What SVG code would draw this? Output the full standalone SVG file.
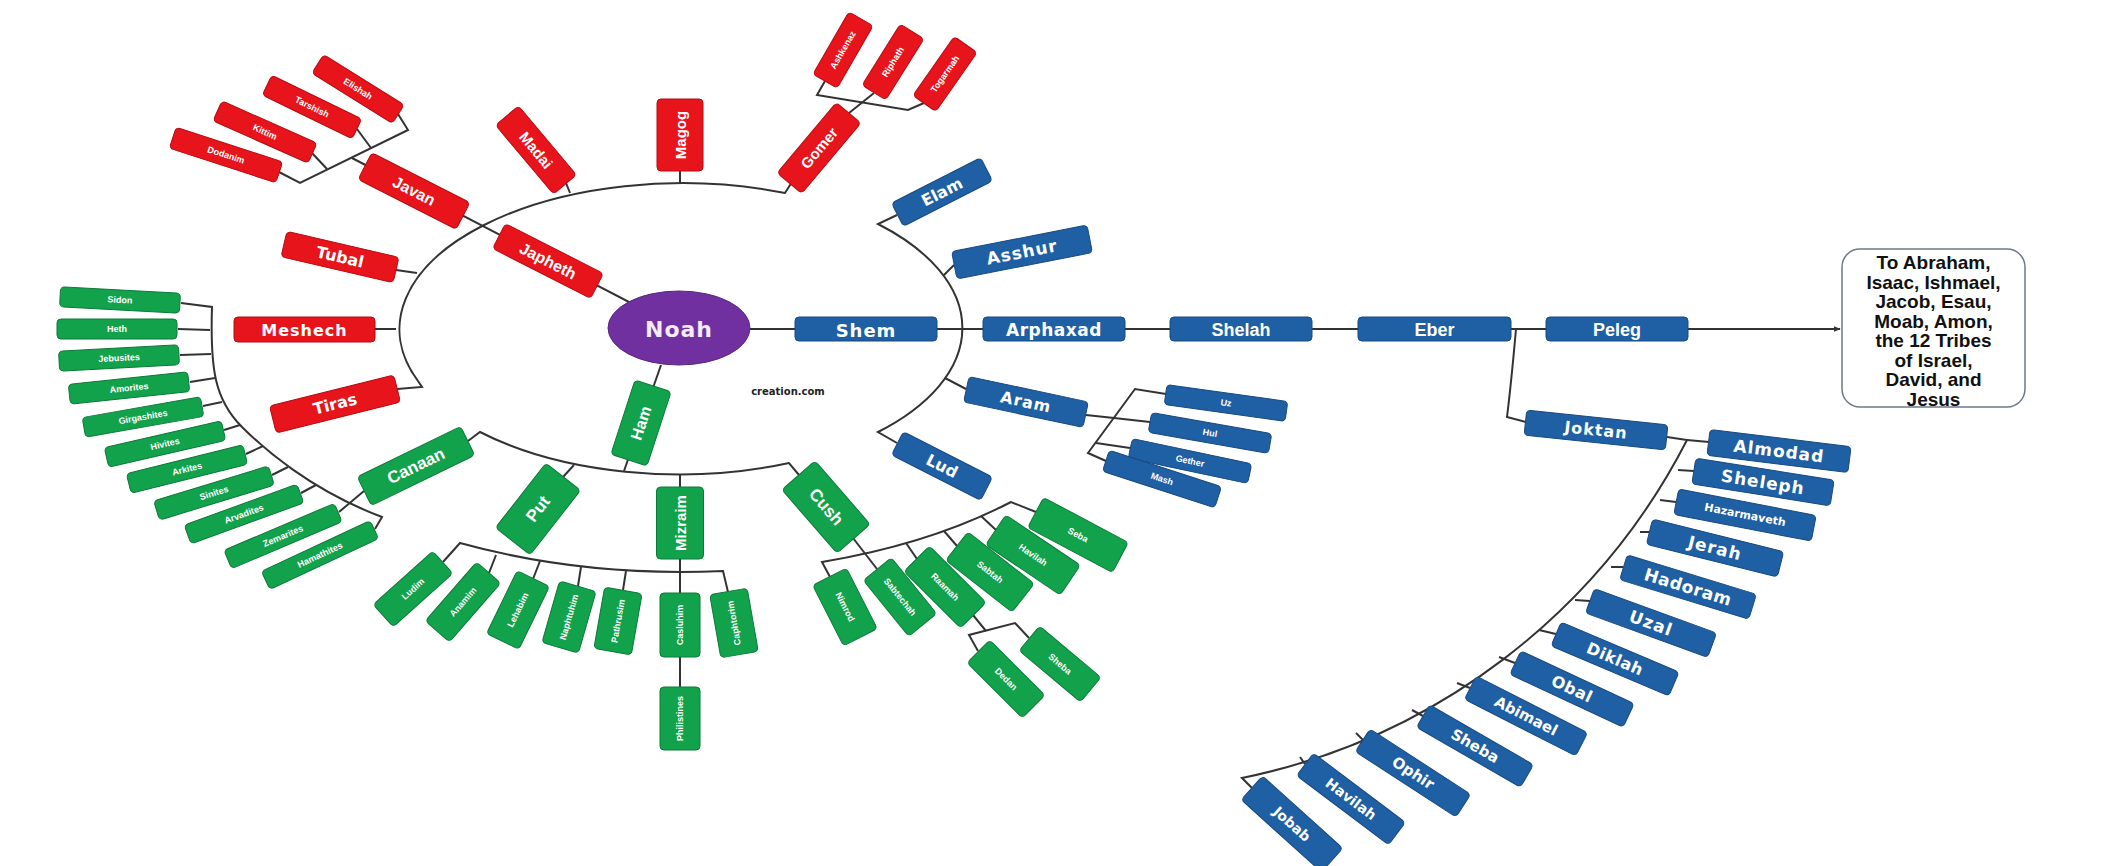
<svg xmlns="http://www.w3.org/2000/svg" width="2101" height="866" viewBox="0 0 2101 866">
<defs>
<style>
.r{fill:#E8141B;stroke:#B80A10;stroke-width:1}
.g{fill:#12A24C;stroke:#0B7A38;stroke-width:1}
.b{fill:#1F5FA3;stroke:#174A80;stroke-width:1}
text{fill:#fff;text-anchor:middle;dominant-baseline:central;font-weight:bold}
.v{font-family:"DejaVu Sans",sans-serif}
.c{font-family:"Liberation Sans",Arial,sans-serif}
.s{font-family:"Liberation Sans",Arial,sans-serif;font-size:9px}
.L{fill:none;stroke:#333;stroke-width:2}
</style>
<marker id="arr" viewBox="0 0 10 10" refX="9" refY="5" markerWidth="7" markerHeight="7" orient="auto" markerUnits="userSpaceOnUse">
<path d="M0,1 L10,5 L0,9 z" fill="#333"/>
</marker>
</defs>
<rect width="2101" height="866" fill="#fff"/>

<g id="connectors" class="L">
<path d="M679,328 L352,158"/>
<path d="M750,329 H1840" marker-end="url(#arr)"/>
<path d="M661,365 L624,471"/>
<path d="M792,182 L785,193 A283,146 0 0 0 418,381 L422,387 L397,389"/>
<path d="M680,171 V183"/>
<path d="M566,183 L570,193"/>
<path d="M396,270 L417,273"/>
<path d="M375,329 H396"/>
<path d="M279,172 L300,183 L408,130 L398,114"/>
<path d="M312,153 L327,169"/>
<path d="M357,129 L371,148"/>
<path d="M825,81 L817,95 L908,110 L924,103"/>
<path d="M849,113 L874,93"/>
<path d="M468,441 L480,432 A283,146 0 0 0 789,463 L799,475"/>
<path d="M563,477 L574,465"/>
<path d="M680,474 V687"/>
<path d="M181,303 L212,307 C210,370 215,400 242,427 C262,447 310,490 382,517 L375,529"/>
<path d="M364,491 L339,512"/>
<path d="M178,329 L210,330"/>
<path d="M180,355 L211,354"/>
<path d="M190,382 L215,378"/>
<path d="M203,406 L222,402"/>
<path d="M224,430 L240,425"/>
<path d="M246,454 L263,446"/>
<path d="M272,475 L288,467"/>
<path d="M301,493 L316,485"/>
<path d="M443,562 L460,543 A473,244 0 0 0 723,571 L728,592"/>
<path d="M489,573 L496,555"/>
<path d="M533,579 L540,561"/>
<path d="M578,586 L581,567"/>
<path d="M623,590 L626,571"/>
<path d="M853,538 L877,569"/>
<path d="M830,577 L822,562 A471,245 0 0 0 1011,502 L1036,512"/>
<path d="M906,543 L917,559"/>
<path d="M944,531 L957,546"/>
<path d="M981,516 L996,530"/>
<path d="M978,651 L969,635 L1015,623 L1029,638"/>
<path d="M973,615 L986,631"/>
<path d="M897,215 L878,224 A283,146 0 0 1 878,432 L897,443"/>
<path d="M944,275 L954,265"/>
<path d="M945,378 L966,389"/>
<path d="M1086,415 L1114,418 L1150,422"/>
<path d="M1166,394 L1135,389 L1088,453 L1106,461"/>
<path d="M1096,443 L1130,448"/>
<path d="M1516,329 Q1511,385 1507,417 L1526,422"/>
<path d="M1667,437 L1687,440 A646,646 0 0 1 1242,778 L1252,788"/>
<path d="M1687,440 L1709,442"/>
<path d="M1678,470 L1694,471"/>
<path d="M1660,500 L1676,502"/>
<path d="M1640,532 L1650,532"/>
<path d="M1611,567 L1623,567"/>
<path d="M1575,600 L1590,601"/>
<path d="M1539,630 L1556,634"/>
<path d="M1499,657 L1515,663"/>
<path d="M1457,683 L1470,688"/>
<path d="M1412,710 L1423,716"/>
<path d="M1356,733 L1363,740"/>
<path d="M1300,757 L1305,764"/>
</g>

<g id="n-noah"><ellipse cx="679" cy="328" rx="71" ry="37" fill="#7030A0" stroke="#5A2580"/><text x="679" y="329" class="v" font-size="22" letter-spacing="1" style="fill:#F3ECFA">Noah</text></g>

<g id="n-japheth" transform="translate(548,261) rotate(27)"><rect x="-55" y="-14" width="110" height="28" rx="4" class="r"/><text class="c" font-size="16">Japheth</text></g>
<g id="n-javan" transform="translate(414,191) rotate(27)"><rect x="-55" y="-15" width="110" height="30" rx="4" class="r"/><text class="c" font-size="16">Javan</text></g>
<g id="n-madai" transform="translate(536,150) rotate(50)"><rect x="-45" y="-15" width="90" height="30" rx="4" class="r"/><text class="c" font-size="15">Madai</text></g>
<g id="n-magog" transform="translate(680,135) rotate(-90)"><rect x="-36" y="-23" width="72" height="46" rx="4" class="r"/><text class="c" font-size="15">Magog</text></g>
<g id="n-gomer" transform="translate(819,148) rotate(-50)"><rect x="-46" y="-16" width="92" height="32" rx="4" class="r"/><text class="c" font-size="15">Gomer</text></g>
<g id="n-tubal" transform="translate(340,257) rotate(13)"><rect x="-57.5" y="-13" width="115" height="26" rx="4" class="r"/><text class="v" font-size="16">Tubal</text></g>
<g id="n-meshech"><rect x="234" y="317" width="141" height="25" rx="4" class="r"/><text x="304.5" y="330" class="v" font-size="16" letter-spacing="1">Meshech</text></g>
<g id="n-tiras" transform="translate(335,404) rotate(-14)"><rect x="-64" y="-14" width="128" height="28" rx="4" class="r"/><text class="v" font-size="16">Tiras</text></g>
<g id="n-ashkenaz" transform="translate(843,50) rotate(-60)"><rect x="-36" y="-14" width="72" height="28" rx="4" class="r"/><text class="s">Ashkenaz</text></g>
<g id="n-riphath" transform="translate(893,62) rotate(-58)"><rect x="-36" y="-14" width="72" height="28" rx="4" class="r"/><text class="s">Riphath</text></g>
<g id="n-togarmah" transform="translate(945,74) rotate(-55)"><rect x="-36" y="-14" width="72" height="28" rx="4" class="r"/><text class="s">Togarmah</text></g>
<g id="n-dodanim" transform="translate(226,155) rotate(18)"><rect x="-56" y="-11" width="112" height="22" rx="4" class="r"/><text class="s" font-size="10">Dodanim</text></g>
<g id="n-kittim" transform="translate(265,132) rotate(24)"><rect x="-52" y="-11" width="104" height="22" rx="4" class="r"/><text class="s" font-size="10">Kittim</text></g>
<g id="n-tarshish" transform="translate(312,107) rotate(26)"><rect x="-50" y="-11" width="100" height="22" rx="4" class="r"/><text class="s" font-size="10">Tarshish</text></g>
<g id="n-elishah" transform="translate(358,89) rotate(32)"><rect x="-47.5" y="-11" width="95" height="22" rx="4" class="r"/><text class="s" font-size="10">Elishah</text></g>

<g id="n-ham" transform="translate(641,423) rotate(-72)"><rect x="-39" y="-19" width="78" height="38" rx="4" class="g"/><text class="c" font-size="16">Ham</text></g>
<g id="n-canaan" transform="translate(416,466) rotate(-26)"><rect x="-57.5" y="-16" width="115" height="32" rx="4" class="g"/><text class="c" font-size="17">Canaan</text></g>
<g id="n-put" transform="translate(538,509) rotate(-52)"><rect x="-41" y="-22" width="82" height="44" rx="4" class="g"/><text class="c" font-size="17">Put</text></g>
<g id="n-mizraim" transform="translate(680,523) rotate(-90)"><rect x="-36" y="-23.5" width="72" height="47" rx="4" class="g"/><text class="c" font-size="15">Mizraim</text></g>
<g id="n-cush" transform="translate(826,507) rotate(49)"><rect x="-42" y="-22" width="84" height="44" rx="4" class="g"/><text class="c" font-size="17">Cush</text></g>

<g id="n-sidon" transform="translate(120,300) rotate(3)"><rect x="-60" y="-10" width="120" height="20" rx="4" class="g"/><text class="s">Sidon</text></g>
<g id="n-heth" transform="translate(117,329)"><rect x="-60" y="-10" width="120" height="20" rx="4" class="g"/><text class="s">Heth</text></g>
<g id="n-jebusites" transform="translate(119,358) rotate(-3)"><rect x="-60" y="-10" width="120" height="20" rx="4" class="g"/><text class="s">Jebusites</text></g>
<g id="n-amorites" transform="translate(129,388) rotate(-6)"><rect x="-60" y="-10" width="120" height="20" rx="4" class="g"/><text class="s">Amorites</text></g>
<g id="n-girgashites" transform="translate(143,417) rotate(-10)"><rect x="-60" y="-10" width="120" height="20" rx="4" class="g"/><text class="s">Girgashites</text></g>
<g id="n-hivites" transform="translate(165,444) rotate(-13)"><rect x="-60" y="-10" width="120" height="20" rx="4" class="g"/><text class="s">Hivites</text></g>
<g id="n-arkites" transform="translate(187,469) rotate(-14)"><rect x="-60" y="-10" width="120" height="20" rx="4" class="g"/><text class="s">Arkites</text></g>
<g id="n-sinites" transform="translate(214,493) rotate(-17)"><rect x="-60" y="-10" width="120" height="20" rx="4" class="g"/><text class="s">Sinites</text></g>
<g id="n-arvadites" transform="translate(244,514) rotate(-20)"><rect x="-60" y="-10" width="120" height="20" rx="4" class="g"/><text class="s">Arvadites</text></g>
<g id="n-zemarites" transform="translate(283,536) rotate(-23)"><rect x="-60" y="-10" width="120" height="20" rx="4" class="g"/><text class="s">Zemarites</text></g>
<g id="n-hamathites" transform="translate(320,555) rotate(-25)"><rect x="-60" y="-10" width="120" height="20" rx="4" class="g"/><text class="s">Hamathites</text></g>

<g id="n-ludim" transform="translate(413,589) rotate(-42)"><rect x="-40" y="-15" width="80" height="30" rx="4" class="g"/><text class="s" font-size="8.5">Ludim</text></g>
<g id="n-anamim" transform="translate(463,602) rotate(-49)"><rect x="-39" y="-16" width="78" height="32" rx="4" class="g"/><text class="s" font-size="8.5">Anamim</text></g>
<g id="n-lehabim" transform="translate(518,610) rotate(-64)"><rect x="-35" y="-18" width="70" height="36" rx="4" class="g"/><text class="s" font-size="8.5">Lehabim</text></g>
<g id="n-naphtuhim" transform="translate(569,617) rotate(-74)"><rect x="-32" y="-19" width="64" height="38" rx="4" class="g"/><text class="s" font-size="8">Naphtuhim</text></g>
<g id="n-pathrusim" transform="translate(618,621) rotate(-80)"><rect x="-31" y="-19" width="62" height="38" rx="4" class="g"/><text class="s" font-size="8">Pathrusim</text></g>
<g id="n-casluhim" transform="translate(680,625) rotate(-90)"><rect x="-32" y="-20" width="64" height="40" rx="4" class="g"/><text class="s" font-size="8">Casluhim</text></g>
<g id="n-caphtorim" transform="translate(734,623) rotate(-100)"><rect x="-32" y="-19" width="64" height="38" rx="4" class="g"/><text class="s" font-size="8">Caphtorim</text></g>
<g id="n-philistines" transform="translate(680,718.5) rotate(-90)"><rect x="-31.5" y="-20" width="63" height="40" rx="4" class="g"/><text class="s" font-size="8">Philistines</text></g>

<g id="n-nimrod" transform="translate(845,607) rotate(63)"><rect x="-34" y="-19" width="68" height="38" rx="4" class="g"/><text class="s">Nimrod</text></g>
<g id="n-sabtechah" transform="translate(900,597) rotate(51)"><rect x="-36" y="-18" width="72" height="36" rx="4" class="g"/><text class="s" font-size="8.5">Sabtechah</text></g>
<g id="n-raamah" transform="translate(945,587) rotate(45)"><rect x="-40" y="-18" width="80" height="36" rx="4" class="g"/><text class="s">Raamah</text></g>
<g id="n-sabtah" transform="translate(990,572) rotate(38)"><rect x="-42" y="-18" width="84" height="36" rx="4" class="g"/><text class="s">Sabtah</text></g>
<g id="n-havilah-c" transform="translate(1033,555) rotate(34)"><rect x="-45" y="-18" width="90" height="36" rx="4" class="g"/><text class="s">Havilah</text></g>
<g id="n-seba" transform="translate(1078,535) rotate(28)"><rect x="-48" y="-17" width="96" height="34" rx="4" class="g"/><text class="s">Seba</text></g>
<g id="n-dedan" transform="translate(1006,679) rotate(45)"><rect x="-39" y="-16" width="78" height="32" rx="4" class="g"/><text class="s">Dedan</text></g>
<g id="n-sheba-c" transform="translate(1060,664) rotate(40)"><rect x="-40" y="-16" width="80" height="32" rx="4" class="g"/><text class="s">Sheba</text></g>

<g id="n-shem"><rect x="795" y="317" width="142" height="24" rx="4" class="b"/><text x="866" y="330" class="v" font-size="18" letter-spacing="1">Shem</text></g>
<g id="n-arphaxad"><rect x="983" y="317" width="142" height="24" rx="4" class="b"/><text x="1054" y="330" class="v" font-size="17" letter-spacing="0.5">Arphaxad</text></g>
<g id="n-shelah"><rect x="1170" y="317" width="142" height="24" rx="4" class="b"/><text x="1241" y="330" class="c" font-size="18">Shelah</text></g>
<g id="n-eber"><rect x="1358" y="317" width="153" height="24" rx="4" class="b"/><text x="1434.5" y="330" class="c" font-size="18">Eber</text></g>
<g id="n-peleg"><rect x="1546" y="317" width="142" height="24" rx="4" class="b"/><text x="1617" y="330" class="c" font-size="18">Peleg</text></g>
<g id="n-elam" transform="translate(942,192) rotate(-27)"><rect x="-50" y="-13" width="100" height="26" rx="4" class="b"/><text class="v" font-size="16">Elam</text></g>
<g id="n-asshur" transform="translate(1022,252) rotate(-11)"><rect x="-69" y="-14" width="138" height="28" rx="4" class="b"/><text class="v" font-size="17" letter-spacing="1">Asshur</text></g>
<g id="n-aram" transform="translate(1026,402) rotate(12)"><rect x="-61" y="-13" width="122" height="26" rx="4" class="b"/><text class="v" font-size="16" letter-spacing="1">Aram</text></g>
<g id="n-lud" transform="translate(942,466) rotate(27)"><rect x="-50" y="-13" width="100" height="26" rx="4" class="b"/><text class="v" font-size="16">Lud</text></g>
<g id="n-uz" transform="translate(1226,403) rotate(8)"><rect x="-61" y="-10" width="122" height="20" rx="4" class="b"/><text class="s">Uz</text></g>
<g id="n-hul" transform="translate(1210,433) rotate(10)"><rect x="-61" y="-10" width="122" height="20" rx="4" class="b"/><text class="s">Hul</text></g>
<g id="n-gether" transform="translate(1190,461) rotate(12)"><rect x="-61" y="-10" width="122" height="20" rx="4" class="b"/><text class="s">Gether</text></g>
<g id="n-mash" transform="translate(1162,479) rotate(18)"><rect x="-59" y="-11" width="118" height="22" rx="4" class="b"/><text class="s">Mash</text></g>
<g id="n-joktan" transform="translate(1596,430) rotate(6)"><rect x="-71" y="-12.5" width="142" height="25" rx="4" class="b"/><text class="v" font-size="16" letter-spacing="1">Joktan</text></g>

<g id="n-almodad" transform="translate(1779,451) rotate(7)"><rect x="-71" y="-13" width="142" height="26" rx="4" class="b"/><text class="v" font-size="17" letter-spacing="1">Almodad</text></g>
<g id="n-sheleph" transform="translate(1763,482) rotate(9)"><rect x="-70" y="-13" width="140" height="26" rx="4" class="b"/><text class="v" font-size="17" letter-spacing="1">Sheleph</text></g>
<g id="n-hazarmaveth" transform="translate(1745,515) rotate(11)"><rect x="-70" y="-13" width="140" height="26" rx="4" class="b"/><text class="v" font-size="11">Hazarmaveth</text></g>
<g id="n-jerah" transform="translate(1715,548) rotate(14)"><rect x="-67.5" y="-13" width="135" height="26" rx="4" class="b"/><text class="v" font-size="17" letter-spacing="1">Jerah</text></g>
<g id="n-hadoram" transform="translate(1688,587) rotate(17)"><rect x="-67.5" y="-13" width="135" height="26" rx="4" class="b"/><text class="v" font-size="17" letter-spacing="0.5">Hadoram</text></g>
<g id="n-uzal" transform="translate(1651,623) rotate(20)"><rect x="-65" y="-13" width="130" height="26" rx="4" class="b"/><text class="v" font-size="17" letter-spacing="1">Uzal</text></g>
<g id="n-diklah" transform="translate(1615,659) rotate(23)"><rect x="-64" y="-13" width="128" height="26" rx="4" class="b"/><text class="v" font-size="16" letter-spacing="0.5">Diklah</text></g>
<g id="n-obal" transform="translate(1572,689) rotate(25)"><rect x="-62.5" y="-13" width="125" height="26" rx="4" class="b"/><text class="v" font-size="16" letter-spacing="0.5">Obal</text></g>
<g id="n-abimael" transform="translate(1526,716) rotate(27)"><rect x="-62.5" y="-13" width="125" height="26" rx="4" class="b"/><text class="v" font-size="15">Abimael</text></g>
<g id="n-sheba" transform="translate(1475,746) rotate(30)"><rect x="-60" y="-13" width="120" height="26" rx="4" class="b"/><text class="v" font-size="15">Sheba</text></g>
<g id="n-ophir" transform="translate(1413,773) rotate(33)"><rect x="-60" y="-13.5" width="120" height="27" rx="4" class="b"/><text class="v" font-size="15">Ophir</text></g>
<g id="n-havilah" transform="translate(1351,799) rotate(37)"><rect x="-57.5" y="-14" width="115" height="28" rx="4" class="b"/><text class="v" font-size="14">Havilah</text></g>
<g id="n-jobab" transform="translate(1292,824) rotate(42)"><rect x="-54" y="-16" width="108" height="32" rx="4" class="b"/><text class="v" font-size="14">Jobab</text></g>

<g id="n-abraham"><rect x="1842" y="249" width="183" height="158" rx="18" fill="#fff" stroke="#6C7A89" stroke-width="1.5"/>
<text class="c" font-size="19" style="fill:#111"><tspan x="1933.5" y="262">To Abraham,</tspan><tspan x="1933.5" y="281.5">Isaac, Ishmael,</tspan><tspan x="1933.5" y="301">Jacob, Esau,</tspan><tspan x="1933.5" y="320.5">Moab, Amon,</tspan><tspan x="1933.5" y="340">the 12 Tribes</tspan><tspan x="1933.5" y="359.5">of Israel,</tspan><tspan x="1933.5" y="379">David, and</tspan><tspan x="1933.5" y="398.5">Jesus</tspan></text></g>

<g id="credit"><text x="788" y="391" class="v" font-size="10" style="fill:#222">creation.com</text></g>
</svg>
